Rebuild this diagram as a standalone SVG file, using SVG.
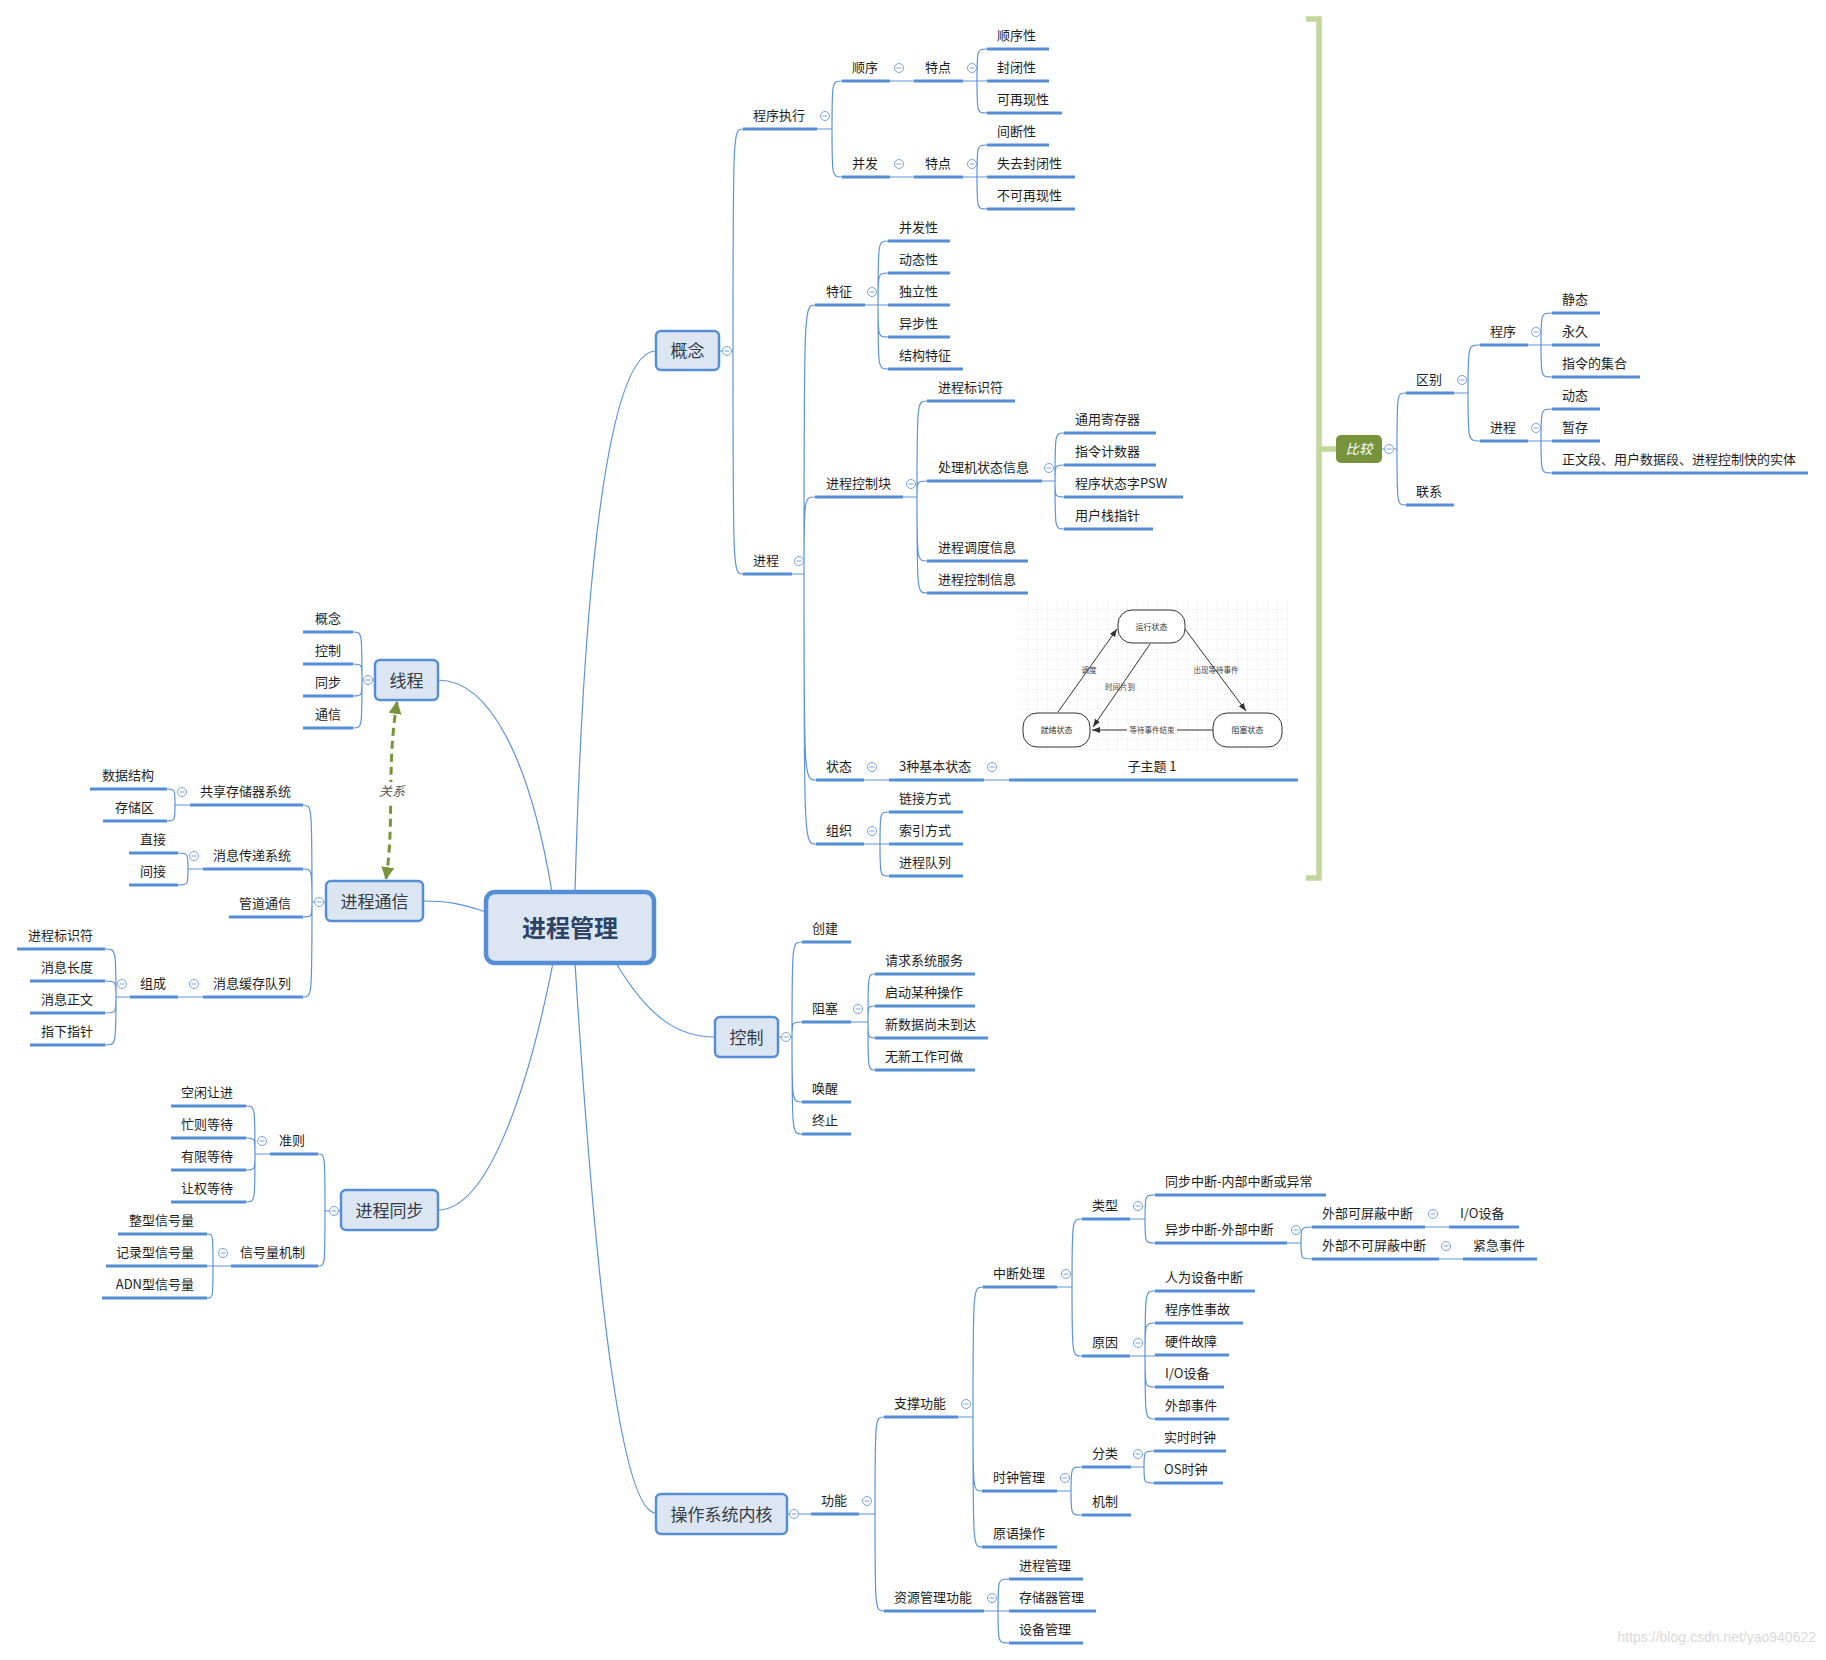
<svg xmlns="http://www.w3.org/2000/svg" width="1826" height="1660" viewBox="0 0 1826 1660">
<defs>
<style>
.t{font-family:"Noto Sans CJK SC","Noto Sans",sans-serif;font-size:13px;fill:#1e1e1e;dominant-baseline:central;transform:translateY(-2px)}
.e{text-anchor:end}
.ul{stroke:#558ed5;stroke-width:3;fill:none}
.ln{stroke:#5e93d8;stroke-width:1.2;fill:none}
.box{fill:#dce6f2;stroke:#558ed5;stroke-width:2.5}
.mt{font-size:17px;fill:#333d4b;text-anchor:middle;transform:translateY(-1px)}
.sd{fill:#fff;stroke:#333;stroke-width:1}
.st{font-size:8px;fill:#333;text-anchor:middle;transform:translateY(-1px)}
.sl{font-size:7.5px;fill:#444;text-anchor:middle;transform:translateY(-1px)}
.sa{stroke:#333;stroke-width:1;fill:none;marker-end:url(#sa)}
</style>
<g id="c"><circle r="4.5" fill="#fff" stroke="#7aa2db" stroke-width="1"/><path d="M-2.5 0H2.5" stroke="#7aa2db" stroke-width="1"/></g>
<pattern id="grid" width="10" height="10" patternUnits="userSpaceOnUse" x="1018" y="600"><path d="M10 0V10M0 10H10" stroke="#e9e9e9" stroke-width="0.8" fill="none"/></pattern>
<marker id="sa" viewBox="0 0 8 6" markerWidth="8" markerHeight="6" refX="8" refY="3" orient="auto" markerUnits="userSpaceOnUse"><path d="M0 0L8 3L0 6z" fill="#333"/></marker>
<marker id="ga" viewBox="0 0 12 12" markerWidth="13" markerHeight="13" refX="11" refY="6" orient="auto-start-reverse" markerUnits="userSpaceOnUse"><path d="M0 0L12 6L0 12z" fill="#77933c"/></marker>
</defs>
<rect width="1826" height="1660" fill="#fff"/>

<g id="connectors">
<path class="ln" d="M575 892C585 520 615 351 656 351M552 892C530 760 490 680 438 680M486 912C460 903 445 901 423 901M616 963C650 1020 680 1037 715 1037M553 963C530 1080 490 1210 438 1210M575 963C590 1200 615 1513 656 1513"/>
<path class="ln" d="M719 351H733M733 351C733 129 733 129 743 129M733 351C733 574 733 574 743 574"/>
<path class="ln" d="M817 129H832M832 129C832 81 832 81 842 81M832 129C832 177 832 177 842 177"/>
<path class="ln" d="M890 81H914M890 177H914"/>
<path class="ln" d="M963 81H977M977 81C977 49 977 49 987 49M977 81C977 113 977 113 987 113M977 81H987"/>
<path class="ln" d="M963 177H977M977 177C977 145 977 145 987 145M977 177C977 209 977 209 987 209M977 177H987"/>
<path class="ln" d="M792 574H804M804 574C804 305 804 305 815 305M804 574C804 497 804 497 815 497M804 574C804 780 804 780 816 780M804 574C804 844 804 844 816 844"/>
<path class="ln" d="M865 305H878M878 305C878 241 878 241 888 241M878 305C878 273 878 273 888 273M878 305H888M878 305C878 337 878 337 888 337M878 305C878 369 878 369 888 369"/>
<path class="ln" d="M903 497H917M917 497C917 401 917 401 927 401M917 497C917 481 917 481 927 481M917 497C917 561 917 561 927 561M917 497C917 593 917 593 927 593"/>
<path class="ln" d="M1042 481H1055M1055 481C1055 433 1055 433 1064 433M1055 481C1055 465 1055 465 1064 465M1055 481C1055 497 1055 497 1064 497M1055 481C1055 529 1055 529 1064 529"/>
<path class="ln" d="M864 780H889M984 780H1009"/>
<path class="ln" d="M864 844H880M880 844C880 812 880 812 889 812M880 844H889M880 844C880 876 880 876 889 876"/>
<path class="ln" d="M778 1037H792M792 1037C792 942 792 942 802 942M792 1037C792 1022 792 1022 802 1022M792 1037C792 1102 792 1102 802 1102M792 1037C792 1134 792 1134 802 1134"/>
<path class="ln" d="M851 1022H868M868 1022C868 974 868 974 875 974M868 1022C868 1006 868 1006 875 1006M868 1022C868 1038 868 1038 875 1038M868 1022C868 1070 868 1070 875 1070"/>
<path class="ln" d="M787 1514H811M859 1514H875M875 1514C875 1417 875 1417 884 1417M875 1514C875 1611 875 1611 884 1611"/>
<path class="ln" d="M958 1417H973M973 1417C973 1287 973 1287 983 1287M973 1417C973 1491 973 1491 982 1491M973 1417C973 1547 973 1547 982 1547"/>
<path class="ln" d="M1057 1287H1072M1072 1287C1072 1219 1072 1219 1082 1219M1072 1287C1072 1356 1072 1356 1082 1356"/>
<path class="ln" d="M1130 1219H1145M1145 1219C1145 1195 1145 1195 1155 1195M1145 1219C1145 1243 1145 1243 1155 1243"/>
<path class="ln" d="M1287 1243H1301M1301 1243C1301 1227 1301 1227 1312 1227M1301 1243C1301 1259 1301 1259 1312 1259M1425 1227H1449M1439 1259H1463"/>
<path class="ln" d="M1130 1356H1145M1145 1356C1145 1291 1145 1291 1155 1291M1145 1356C1145 1323 1145 1323 1155 1323M1145 1356H1155M1145 1356C1145 1387 1145 1387 1155 1387M1145 1356C1145 1419 1145 1419 1155 1419"/>
<path class="ln" d="M1057 1491H1071M1071 1491C1071 1467 1071 1467 1082 1467M1071 1491C1071 1515 1071 1515 1082 1515"/>
<path class="ln" d="M1131 1467H1144M1144 1467C1144 1451 1144 1451 1154 1451M1144 1467C1144 1483 1144 1483 1154 1483"/>
<path class="ln" d="M984 1611H998M998 1611C998 1579 998 1579 1009 1579M998 1611H1009M998 1611C998 1643 998 1643 1009 1643"/>
<path class="ln" d="M1382 449H1397M1397 449C1397 393 1397 393 1406 393M1397 449C1397 505 1397 505 1406 505"/>
<path class="ln" d="M1454 393H1468M1468 393C1468 345 1468 345 1480 345M1468 393C1468 441 1468 441 1480 441"/>
<path class="ln" d="M1528 345H1541M1541 345C1541 313 1541 313 1552 313M1541 345H1552M1541 345C1541 377 1541 377 1552 377"/>
<path class="ln" d="M1528 441H1541M1541 441C1541 409 1541 409 1552 409M1541 441H1552M1541 441C1541 473 1541 473 1552 473"/>
<path class="ln" d="M375 680H362M362 680C362 632 362 632 353 632M362 680C362 664 362 664 353 664M362 680C362 696 362 696 353 696M362 680C362 728 362 728 353 728"/>
<path class="ln" d="M326 902H312M312 902C312 805 312 805 303 805M312 902C312 869 312 869 303 869M312 902C312 917 312 917 303 917M312 902C312 997 312 997 303 997"/>
<path class="ln" d="M190 805H175M175 805C175 789 175 789 167 789M175 805C175 821 175 821 167 821"/>
<path class="ln" d="M203 869H188M188 869C188 853 188 853 178 853M188 869C188 885 188 885 178 885M203 997H178"/>
<path class="ln" d="M130 997H116M116 997C116 949 116 949 105 949M116 997C116 981 116 981 105 981M116 997C116 1013 116 1013 105 1013M116 997C116 1045 116 1045 105 1045"/>
<path class="ln" d="M341 1211H325M325 1211C325 1154 325 1154 318 1154M325 1211C325 1266 325 1266 318 1266"/>
<path class="ln" d="M270 1154H255M255 1154C255 1106 255 1106 246 1106M255 1154C255 1138 255 1138 246 1138M255 1154C255 1170 255 1170 246 1170M255 1154C255 1202 255 1202 246 1202"/>
<path class="ln" d="M231 1266H213M213 1266C213 1234 213 1234 207 1234M213 1266H207M213 1266C213 1298 213 1298 207 1298"/>
<path d="M397 702C386 770 395 820 386 879" fill="none" stroke="#77933c" stroke-width="3" stroke-dasharray="8 5" marker-start="url(#ga)" marker-end="url(#ga)"/>
<rect x="376" y="782" width="32" height="20" fill="#fff"/>
<text class="t" x="392" y="792" text-anchor="middle" font-style="italic" style="fill:#555">关系</text>
<path d="M1306 19H1319V878H1306M1319 449H1336" fill="none" stroke="#c3d69b" stroke-width="5.5"/>
</g>

<g id="root"><rect class="box" x="486" y="892" width="168" height="71" rx="9" style="stroke-width:4.5"/><text class="t" x="570" y="928" text-anchor="middle" style="font-size:24px;font-weight:bold;fill:#2d4467;transform:translateY(-1.5px)">进程管理</text></g>

<g id="n-gainian"><rect class="box" x="656" y="331" width="63" height="39" rx="5"/><text class="t mt" x="687.5" y="350.5">概念</text></g>
<g id="n-xiancheng"><rect class="box" x="375" y="660" width="63" height="40" rx="5"/><text class="t mt" x="406.5" y="680">线程</text></g>
<g id="n-tongxin"><rect class="box" x="326" y="881" width="97" height="40" rx="5"/><text class="t mt" x="374.5" y="901">进程通信</text></g>
<g id="n-kongzhi"><rect class="box" x="715" y="1017" width="63" height="40" rx="5"/><text class="t mt" x="746.5" y="1037">控制</text></g>
<g id="n-tongbu"><rect class="box" x="341" y="1190" width="97" height="40" rx="5"/><text class="t mt" x="389.5" y="1210">进程同步</text></g>
<g id="n-neihe"><rect class="box" x="656" y="1494" width="131" height="40" rx="5"/><text class="t mt" x="721.5" y="1514">操作系统内核</text></g>
<g id="n-bijiao"><rect x="1336" y="435" width="46" height="28" rx="5" fill="#77933c"/><text class="t" x="1359" y="449" text-anchor="middle" font-style="italic" style="fill:#fff;font-size:13.5px;transform:translateY(-1px)">比较</text></g>

<g id="n-cxzx"><text class="t" x="753" y="116">程序执行</text><path class="ul" d="M743 129H817"/></g>
<g id="n-shunxu"><text class="t" x="852" y="68">顺序</text><path class="ul" d="M842 81H890"/></g>
<g id="n-tedian1"><text class="t" x="925" y="68">特点</text><path class="ul" d="M914 81H963"/></g>
<g id="n-sxx"><text class="t" x="997" y="36">顺序性</text><path class="ul" d="M987 49H1049"/></g>
<g id="n-fbx"><text class="t" x="997" y="68">封闭性</text><path class="ul" d="M987 81H1049"/></g>
<g id="n-kzxx"><text class="t" x="997" y="100">可再现性</text><path class="ul" d="M987 113H1062"/></g>
<g id="n-bingfa"><text class="t" x="852" y="164">并发</text><path class="ul" d="M842 177H890"/></g>
<g id="n-tedian2"><text class="t" x="925" y="164">特点</text><path class="ul" d="M914 177H963"/></g>
<g id="n-jdx"><text class="t" x="997" y="132">间断性</text><path class="ul" d="M987 145H1049"/></g>
<g id="n-sqfbx"><text class="t" x="997" y="164">失去封闭性</text><path class="ul" d="M987 177H1075"/></g>
<g id="n-bkzxx"><text class="t" x="997" y="196">不可再现性</text><path class="ul" d="M987 209H1075"/></g>
<g id="n-jincheng"><text class="t" x="753" y="561">进程</text><path class="ul" d="M743 574H792"/></g>
<g id="n-tezheng"><text class="t" x="826" y="292">特征</text><path class="ul" d="M815 305H865"/></g>
<g id="n-bfx"><text class="t" x="899" y="228">并发性</text><path class="ul" d="M888 241H950"/></g>
<g id="n-dtx"><text class="t" x="899" y="260">动态性</text><path class="ul" d="M888 273H950"/></g>
<g id="n-dlx"><text class="t" x="899" y="292">独立性</text><path class="ul" d="M888 305H950"/></g>
<g id="n-ybx"><text class="t" x="899" y="324">异步性</text><path class="ul" d="M888 337H950"/></g>
<g id="n-jgtz"><text class="t" x="899" y="356">结构特征</text><path class="ul" d="M888 369H963"/></g>
<g id="n-pcb"><text class="t" x="826" y="484">进程控制块</text><path class="ul" d="M815 497H903"/></g>
<g id="n-bsf"><text class="t" x="938" y="388">进程标识符</text><path class="ul" d="M927 401H1015"/></g>
<g id="n-cljzt"><text class="t" x="938" y="468">处理机状态信息</text><path class="ul" d="M927 481H1042"/></g>
<g id="n-tyjcq"><text class="t" x="1075" y="420">通用寄存器</text><path class="ul" d="M1064 433H1156"/></g>
<g id="n-zljsq"><text class="t" x="1075" y="452">指令计数器</text><path class="ul" d="M1064 465H1156"/></g>
<g id="n-psw"><text class="t" x="1075" y="484">程序状态字PSW</text><path class="ul" d="M1064 497H1183"/></g>
<g id="n-yhzzz"><text class="t" x="1075" y="516">用户栈指针</text><path class="ul" d="M1064 529H1153"/></g>
<g id="n-ddxx"><text class="t" x="938" y="548">进程调度信息</text><path class="ul" d="M927 561H1028"/></g>
<g id="n-kzxx2"><text class="t" x="938" y="580">进程控制信息</text><path class="ul" d="M927 593H1028"/></g>
<g id="n-zhuangtai"><text class="t" x="826" y="767">状态</text><path class="ul" d="M816 780H864"/></g>
<g id="n-3zjbzt"><text class="t" x="899" y="767">3种基本状态</text><path class="ul" d="M889 780H984"/></g>
<g id="n-zizhuti">
<rect x="1018" y="600" width="270" height="153" fill="url(#grid)"/>
<rect class="sd" x="1118" y="610" width="67" height="33" rx="14"/>
<rect class="sd" x="1023" y="713" width="67" height="34" rx="14"/>
<rect class="sd" x="1213" y="713" width="69" height="34" rx="14"/>
<text class="t st" x="1151.5" y="627">运行状态</text>
<text class="t st" x="1056.5" y="730">就绪状态</text>
<text class="t st" x="1247.5" y="730">阻塞状态</text>
<path class="sa" d="M1058 712L1117 629"/>
<path class="sa" d="M1150 644L1093 727"/>
<path class="sa" d="M1185 629L1246 711"/>
<path class="sa" d="M1213 730L1092 730"/>
<rect x="1127" y="725" width="50" height="10" fill="#fff"/>
<text class="t sl" x="1089" y="670">调度</text>
<text class="t sl" x="1120" y="687">时间片到</text>
<text class="t sl" x="1216" y="670">出现等待事件</text>
<text class="t sl" x="1152" y="730">等待事件结束</text>
<text class="t" x="1152" y="767" text-anchor="middle">子主题 1</text><path class="ul" d="M1009 780H1298"/></g>
<g id="n-zuzhi"><text class="t" x="826" y="831">组织</text><path class="ul" d="M816 844H864"/></g>
<g id="n-ljfs"><text class="t" x="899" y="799">链接方式</text><path class="ul" d="M889 812H963"/></g>
<g id="n-syfs"><text class="t" x="899" y="831">索引方式</text><path class="ul" d="M889 844H963"/></g>
<g id="n-jcdl"><text class="t" x="899" y="863">进程队列</text><path class="ul" d="M889 876H963"/></g>

<g id="n-chuangjian"><text class="t" x="812" y="929">创建</text><path class="ul" d="M802 942H851"/></g>
<g id="n-zuse"><text class="t" x="812" y="1009">阻塞</text><path class="ul" d="M802 1022H851"/></g>
<g id="n-qqxtfw"><text class="t" x="885" y="961">请求系统服务</text><path class="ul" d="M875 974H975"/></g>
<g id="n-qdmzcz"><text class="t" x="885" y="993">启动某种操作</text><path class="ul" d="M875 1006H975"/></g>
<g id="n-xsjwdd"><text class="t" x="885" y="1025">新数据尚未到达</text><path class="ul" d="M875 1038H988"/></g>
<g id="n-wxgzkz"><text class="t" x="885" y="1057">无新工作可做</text><path class="ul" d="M875 1070H975"/></g>
<g id="n-huanxing"><text class="t" x="812" y="1089">唤醒</text><path class="ul" d="M802 1102H851"/></g>
<g id="n-zhongzhi"><text class="t" x="812" y="1121">终止</text><path class="ul" d="M802 1134H851"/></g>

<g id="n-gongneng"><text class="t" x="821" y="1501">功能</text><path class="ul" d="M811 1514H859"/></g>
<g id="n-zcgn"><text class="t" x="894" y="1404">支撑功能</text><path class="ul" d="M884 1417H958"/></g>
<g id="n-zdcl"><text class="t" x="993" y="1274">中断处理</text><path class="ul" d="M983 1287H1057"/></g>
<g id="n-leixing"><text class="t" x="1092" y="1206">类型</text><path class="ul" d="M1082 1219H1130"/></g>
<g id="n-tbzd"><text class="t" x="1165" y="1182">同步中断-内部中断或异常</text><path class="ul" d="M1155 1195H1326"/></g>
<g id="n-ybzd"><text class="t" x="1165" y="1230">异步中断-外部中断</text><path class="ul" d="M1155 1243H1287"/></g>
<g id="n-wbkpb"><text class="t" x="1322" y="1214">外部可屏蔽中断</text><path class="ul" d="M1312 1227H1425"/></g>
<g id="n-io1"><text class="t" x="1460" y="1214">I/O设备</text><path class="ul" d="M1449 1227H1519"/></g>
<g id="n-wbbkpb"><text class="t" x="1322" y="1246">外部不可屏蔽中断</text><path class="ul" d="M1312 1259H1439"/></g>
<g id="n-jjsj"><text class="t" x="1473" y="1246">紧急事件</text><path class="ul" d="M1463 1259H1537"/></g>
<g id="n-yuanyin"><text class="t" x="1092" y="1343">原因</text><path class="ul" d="M1082 1356H1130"/></g>
<g id="n-rwsbzd"><text class="t" x="1165" y="1278">人为设备中断</text><path class="ul" d="M1155 1291H1255"/></g>
<g id="n-cxxsg"><text class="t" x="1165" y="1310">程序性事故</text><path class="ul" d="M1155 1323H1243"/></g>
<g id="n-yjgz"><text class="t" x="1165" y="1342">硬件故障</text><path class="ul" d="M1155 1355H1229"/></g>
<g id="n-io2"><text class="t" x="1165" y="1374">I/O设备</text><path class="ul" d="M1155 1387H1224"/></g>
<g id="n-wbsj"><text class="t" x="1165" y="1406">外部事件</text><path class="ul" d="M1155 1419H1229"/></g>
<g id="n-szgl"><text class="t" x="993" y="1478">时钟管理</text><path class="ul" d="M982 1491H1057"/></g>
<g id="n-fenlei"><text class="t" x="1092" y="1454">分类</text><path class="ul" d="M1082 1467H1131"/></g>
<g id="n-sssz"><text class="t" x="1164" y="1438">实时时钟</text><path class="ul" d="M1154 1451H1226"/></g>
<g id="n-ossz"><text class="t" x="1164" y="1470">OS时钟</text><path class="ul" d="M1154 1483H1223"/></g>
<g id="n-jizhi"><text class="t" x="1092" y="1502">机制</text><path class="ul" d="M1082 1515H1131"/></g>
<g id="n-yycz"><text class="t" x="993" y="1534">原语操作</text><path class="ul" d="M982 1547H1057"/></g>
<g id="n-zyglgn"><text class="t" x="894" y="1598">资源管理功能</text><path class="ul" d="M884 1611H984"/></g>
<g id="n-jcgl"><text class="t" x="1019" y="1566">进程管理</text><path class="ul" d="M1009 1579H1083"/></g>
<g id="n-ccqgl"><text class="t" x="1019" y="1598">存储器管理</text><path class="ul" d="M1009 1611H1096"/></g>
<g id="n-sbgl"><text class="t" x="1019" y="1630">设备管理</text><path class="ul" d="M1009 1643H1083"/></g>

<g id="n-qubie"><text class="t" x="1416" y="380">区别</text><path class="ul" d="M1406 393H1454"/></g>
<g id="n-chengxu"><text class="t" x="1490" y="332">程序</text><path class="ul" d="M1480 345H1528"/></g>
<g id="n-jingtai"><text class="t" x="1562" y="300">静态</text><path class="ul" d="M1552 313H1600"/></g>
<g id="n-yongjiu"><text class="t" x="1562" y="332">永久</text><path class="ul" d="M1552 345H1600"/></g>
<g id="n-zldjh"><text class="t" x="1562" y="364">指令的集合</text><path class="ul" d="M1552 377H1640"/></g>
<g id="n-jincheng2"><text class="t" x="1490" y="428">进程</text><path class="ul" d="M1480 441H1528"/></g>
<g id="n-dongtai"><text class="t" x="1562" y="396">动态</text><path class="ul" d="M1552 409H1600"/></g>
<g id="n-zancun"><text class="t" x="1562" y="428">暂存</text><path class="ul" d="M1552 441H1600"/></g>
<g id="n-zwd"><text class="t" x="1562" y="460">正文段、用户数据段、进程控制快的实体</text><path class="ul" d="M1552 473H1808"/></g>
<g id="n-lianxi"><text class="t" x="1416" y="492">联系</text><path class="ul" d="M1406 505H1454"/></g>

<g id="n-xc-gn"><text class="t e" x="341" y="619">概念</text><path class="ul" d="M303 632H353"/></g>
<g id="n-xc-kz"><text class="t e" x="341" y="651">控制</text><path class="ul" d="M303 664H353"/></g>
<g id="n-xc-tb"><text class="t e" x="341" y="683">同步</text><path class="ul" d="M303 696H353"/></g>
<g id="n-xc-tx"><text class="t e" x="341" y="715">通信</text><path class="ul" d="M303 728H353"/></g>
<g id="n-gxccq"><text class="t e" x="291" y="792">共享存储器系统</text><path class="ul" d="M190 805H303"/></g>
<g id="n-sjjg"><text class="t e" x="154" y="776">数据结构</text><path class="ul" d="M90 789H167"/></g>
<g id="n-ccq"><text class="t e" x="154" y="808">存储区</text><path class="ul" d="M103 821H167"/></g>
<g id="n-xxcd"><text class="t e" x="291" y="856">消息传递系统</text><path class="ul" d="M203 869H303"/></g>
<g id="n-zhijie"><text class="t e" x="166" y="840">直接</text><path class="ul" d="M129 853H178"/></g>
<g id="n-jianjie"><text class="t e" x="166" y="872">间接</text><path class="ul" d="M129 885H178"/></g>
<g id="n-gdtx"><text class="t e" x="291" y="904">管道通信</text><path class="ul" d="M229 917H303"/></g>
<g id="n-xxhc"><text class="t e" x="291" y="984">消息缓存队列</text><path class="ul" d="M203 997H303"/></g>
<g id="n-zucheng"><text class="t e" x="166" y="984">组成</text><path class="ul" d="M130 997H178"/></g>
<g id="n-jcbsf"><text class="t e" x="93" y="936">进程标识符</text><path class="ul" d="M17 949H105"/></g>
<g id="n-xxcd2"><text class="t e" x="93" y="968">消息长度</text><path class="ul" d="M30 981H105"/></g>
<g id="n-xxzw"><text class="t e" x="93" y="1000">消息正文</text><path class="ul" d="M30 1013H105"/></g>
<g id="n-zxzz"><text class="t e" x="93" y="1032">指下指针</text><path class="ul" d="M30 1045H105"/></g>
<g id="n-zhunze"><text class="t e" x="305" y="1141">准则</text><path class="ul" d="M270 1154H318"/></g>
<g id="n-kxrj"><text class="t e" x="233" y="1093">空闲让进</text><path class="ul" d="M171 1106H246"/></g>
<g id="n-mzdd"><text class="t e" x="233" y="1125">忙则等待</text><path class="ul" d="M171 1138H246"/></g>
<g id="n-yxdd"><text class="t e" x="233" y="1157">有限等待</text><path class="ul" d="M171 1170H246"/></g>
<g id="n-rqdd"><text class="t e" x="233" y="1189">让权等待</text><path class="ul" d="M171 1202H246"/></g>
<g id="n-xhljz"><text class="t e" x="305" y="1253">信号量机制</text><path class="ul" d="M231 1266H318"/></g>
<g id="n-zxxhl"><text class="t e" x="194" y="1221">整型信号量</text><path class="ul" d="M118 1234H207"/></g>
<g id="n-jlxxhl"><text class="t e" x="194" y="1253">记录型信号量</text><path class="ul" d="M106 1266H207"/></g>
<g id="n-adn"><text class="t e" x="194" y="1285">ADN型信号量</text><path class="ul" d="M102 1298H207"/></g>

<g id="collapse">
<use href="#c" x="727" y="351"/><use href="#c" x="825" y="116"/><use href="#c" x="899" y="68"/><use href="#c" x="972" y="68"/><use href="#c" x="899" y="164"/><use href="#c" x="972" y="164"/><use href="#c" x="799" y="561"/><use href="#c" x="872" y="292"/><use href="#c" x="911" y="484"/><use href="#c" x="1049" y="468"/><use href="#c" x="872" y="767"/><use href="#c" x="992" y="767"/><use href="#c" x="872" y="831"/>
<use href="#c" x="786" y="1037"/><use href="#c" x="858" y="1009"/>
<use href="#c" x="794" y="1514"/><use href="#c" x="867" y="1501"/><use href="#c" x="966" y="1404"/><use href="#c" x="1066" y="1274"/><use href="#c" x="1138" y="1206"/><use href="#c" x="1296" y="1230"/><use href="#c" x="1433" y="1214"/><use href="#c" x="1446" y="1246"/><use href="#c" x="1138" y="1343"/><use href="#c" x="1065" y="1478"/><use href="#c" x="1138" y="1454"/><use href="#c" x="992" y="1598"/>
<use href="#c" x="1389" y="449"/><use href="#c" x="1462" y="380"/><use href="#c" x="1536" y="332"/><use href="#c" x="1536" y="428"/>
<use href="#c" x="368" y="680"/><use href="#c" x="319" y="902"/><use href="#c" x="182" y="792"/><use href="#c" x="194" y="856"/><use href="#c" x="194" y="984"/><use href="#c" x="122" y="984"/>
<use href="#c" x="334" y="1211"/><use href="#c" x="262" y="1141"/><use href="#c" x="223" y="1253"/>
</g>
<text x="1816" y="1642" text-anchor="end" font-family="Liberation Sans, sans-serif" font-size="14" fill="#d9d9d9">https://blog.csdn.net/yao940622</text>
</svg>
